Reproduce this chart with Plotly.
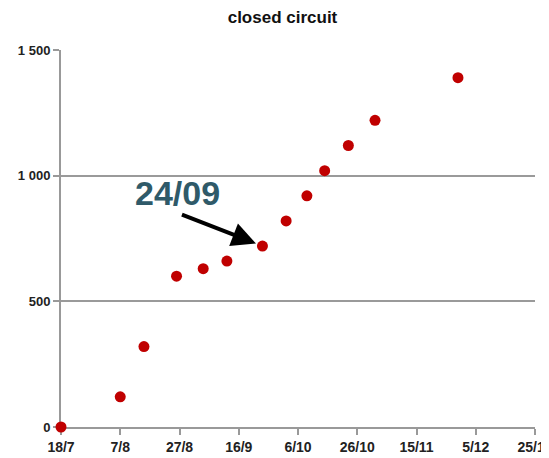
import plotly.graph_objects as go

dates = ["2020-07-18", "2020-08-07", "2020-08-15", "2020-08-26", "2020-09-04",
         "2020-09-12", "2020-09-24", "2020-10-02", "2020-10-09", "2020-10-15",
         "2020-10-23", "2020-11-01", "2020-11-29"]
values = [0, 120, 320, 600, 630, 660, 720, 820, 920, 1020, 1120, 1220, 1390]

y_tickvals = [0, 500, 1000, 1500]
y_ticktext = ["0", "500", "1 000", "1 500"]
x_tickvals = ["2020-07-18", "2020-08-07", "2020-08-27", "2020-09-16", "2020-10-06",
              "2020-10-26", "2020-11-15", "2020-12-05", "2020-12-25"]
x_ticktext = ["18/7", "7/8", "27/8", "16/9", "6/10", "26/10", "15/11", "5/12", "25/12"]

FONT = "Liberation Sans, Arial, sans-serif"

fig = go.Figure()
fig.add_trace(go.Scatter(
    x=dates, y=values, mode="markers",
    marker=dict(color="#C00000", size=11),
    cliponaxis=False, showlegend=False,
))

fig.add_annotation(
    x=dates[6], y=values[6], xref="x", yref="y",
    text="", showarrow=True, arrowhead=2, arrowsize=1.2, arrowwidth=4,
    arrowcolor="#000000", ax=-82, ay=-32, standoff=7,
)
fig.add_annotation(
    x=dates[6], y=values[6], xref="x", yref="y",
    text="<b>24/09</b>", showarrow=False, xshift=-85, yshift=53,
    font=dict(family=FONT, size=34, color="#2F5A69"),
)

fig.update_layout(
    width=541, height=450,
    margin=dict(l=53, r=14, t=42, b=31, autoexpand=False),
    paper_bgcolor="white", plot_bgcolor="white",
    title=dict(text="<b>closed circuit</b>", x=(282.5 - 8) / 541, xref="container",
               xanchor="center", y=1 - (17 - 8) / 450, yref="container", yanchor="middle",
               font=dict(family=FONT, size=17, color="#111111")),
    xaxis=dict(
        range=["2020-07-18", "2020-12-25"], tickvals=x_tickvals,
        ticktext=["<b>%s</b>" % t for t in x_ticktext],
        showgrid=False, zeroline=False, showline=True, linecolor="#999999", linewidth=2,
        ticks="outside", ticklen=6, tickcolor="#999999", tickwidth=1.5,
        tickfont=dict(family=FONT, size=14, color="#222222"), automargin=False,
        ticklabeloverflow="allow", layer="below traces",
    ),
    yaxis=dict(
        range=[0, 1500], tickvals=y_tickvals,
        ticktext=["<b>%s</b>" % t for t in y_ticktext],
        showgrid=True, gridcolor="#9a9a9a", gridwidth=1.5, zeroline=False,
        showline=True, linecolor="#999999", linewidth=2,
        ticks="outside", ticklen=6, tickcolor="#999999", tickwidth=1.5,
        tickfont=dict(family=FONT, size=13, color="#222222"), automargin=False,
        ticklabeloverflow="allow", layer="below traces",
    ),
)

fig.write_html("out.html")
